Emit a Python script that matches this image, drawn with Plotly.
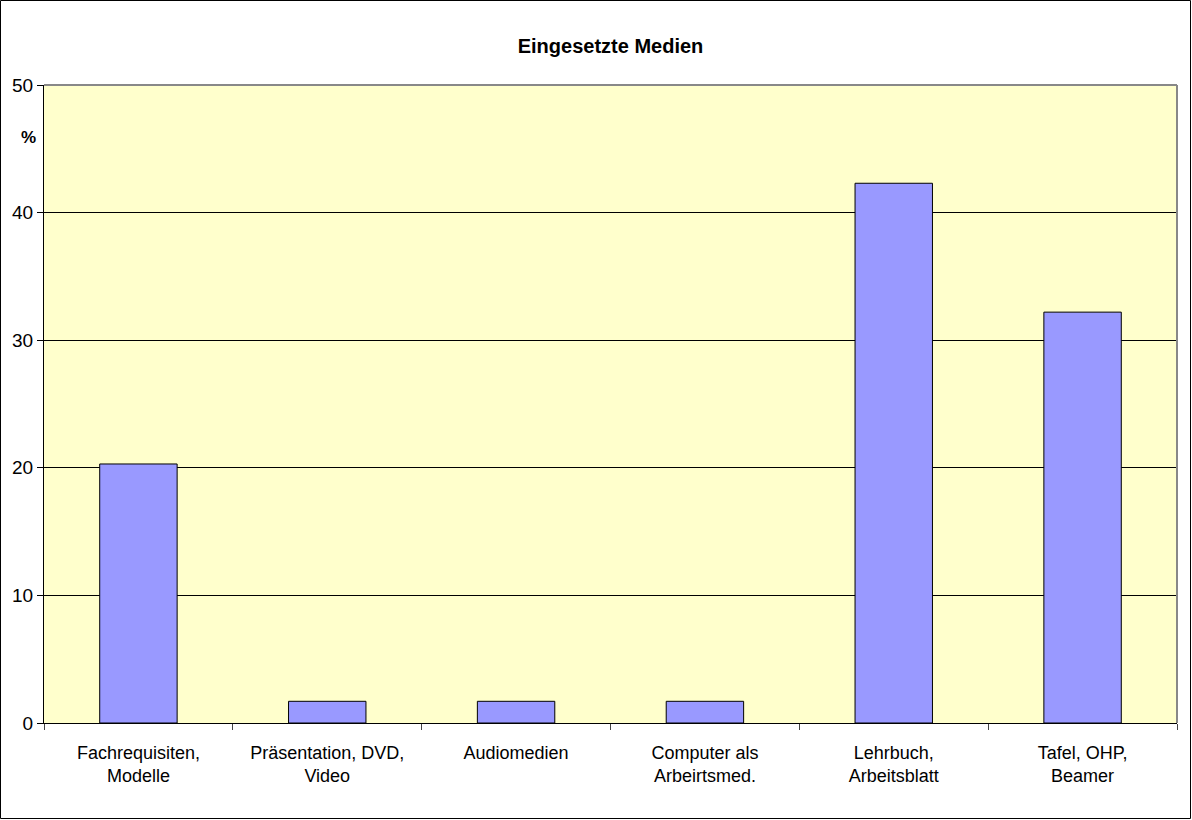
import plotly.graph_objects as go

categories = [
    "Fachrequisiten,<br>Modelle",
    "Präsentation, DVD,<br>Video",
    "Audiomedien",
    "Computer als<br>Arbeirtsmed.",
    "Lehrbuch,<br>Arbeitsblatt",
    "Tafel, OHP,<br>Beamer",
]
values = [20.3, 1.7, 1.7, 1.7, 42.3, 32.2]
y_ticks = [0, 10, 20, 30, 40, 50]

W, H = 1192, 820
L, R, T, B = 44, 15, 85, 97
pw, ph = W - L - R, H - T - B

fig = go.Figure()
fig.add_trace(go.Bar(
    x=categories,
    y=values,
    width=0.41,
    marker=dict(color="#9999FF", line=dict(color="black", width=1)),
    showlegend=False,
))

fig.update_layout(
    width=W, height=H,
    margin=dict(l=L, r=R, t=T, b=B),
    paper_bgcolor="white",
    plot_bgcolor="#FFFFCC",
    font=dict(family="Liberation Sans, Arial", size=16, color="black"),
    title=dict(text="<b>Eingesetzte Medien</b>", x=0.5, xref="paper",
               y=1 - 46 / H, yanchor="middle", font=dict(size=20)),
    bargap=0.59,
)
fig.update_xaxes(
    type="category",
    tickson="boundaries",
    ticks="outside", ticklen=6, tickcolor="#444",
    showgrid=False,
    showline=True, linecolor="black", linewidth=1,
    tickfont=dict(size=18),
    ticklabelstandoff=13,
)
fig.update_yaxes(
    range=[0, 50], tickvals=y_ticks,
    ticks="outside", ticklen=6, tickcolor="black",
    showgrid=True, gridcolor="black", gridwidth=1,
    showline=True, linecolor="black", linewidth=1,
    zeroline=False,
    tickfont=dict(size=19),
)

# gray top/right frame of plot area
fig.add_shape(type="line", xref="paper", yref="paper", x0=0, x1=1, y0=1, y1=1,
              line=dict(color="#888", width=2))
fig.add_shape(type="line", xref="paper", yref="paper", x0=1, x1=1, y0=0, y1=1,
              line=dict(color="#888", width=2))
# outer chart border
fig.add_shape(type="rect", xref="paper", yref="paper",
              x0=-(L - 0.5) / pw, x1=1 + (R - 1.5) / pw,
              y0=-(B - 1.5) / ph, y1=1 + (T - 0.5) / ph,
              line=dict(color="black", width=1))

fig.add_annotation(text="<b>%</b>", xref="paper", yref="paper",
                   x=-6 / pw, y=1 - (137 - T) / ph, showarrow=False,
                   font=dict(size=17), xanchor="right", yanchor="middle")

fig.write_html("out.html", config={"displayModeBar": False},
               post_script="document.body.style.margin='0';")
